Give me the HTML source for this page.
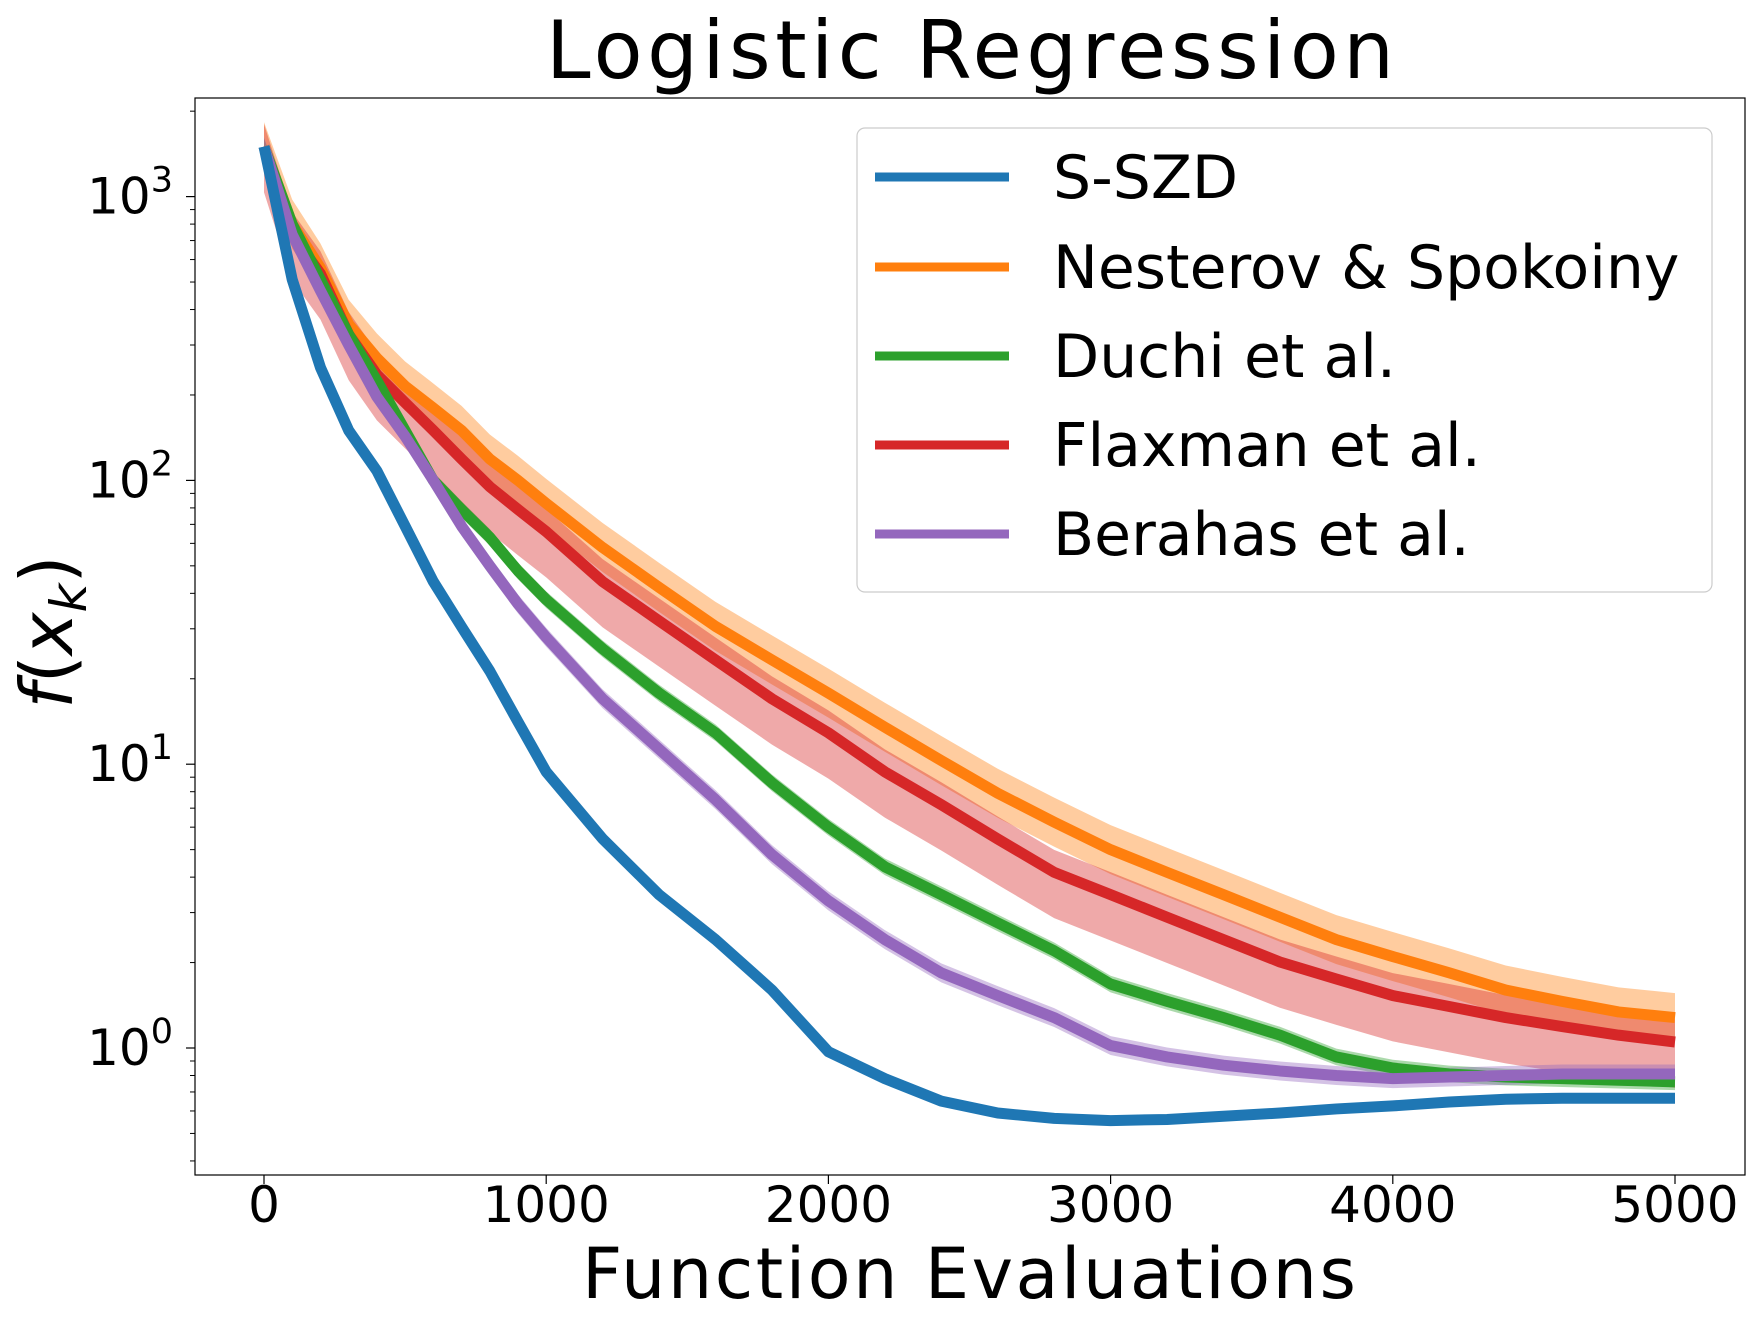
<!DOCTYPE html>
<html><head><meta charset="utf-8"><style>body{margin:0;background:#fff}svg{display:block}</style></head>
<body>
<svg id="chart" width="1754" height="1327" xmlns="http://www.w3.org/2000/svg" font-family="DejaVu Sans, Liberation Sans, sans-serif"></svg>
<script>
const xs = [0,100,200,300,400,500,600,700,800,900,1000,1200,1400,1600,1800,2000,2200,2400,2600,2800,3000,3200,3400,3600,3800,4000,4200,4400,4600,4800,5000];
const ssdzVals = [1500,510,250,150,108,69,44,30.5,21.3,14.1,9.4,5.46,3.47,2.41,1.6,0.97,0.78,0.65,0.59,0.565,0.555,0.56,0.575,0.59,0.61,0.625,0.645,0.66,0.665,0.665,0.665];
const nestVals = [1500,800,560,355,270,215,180,150,119,100,83,58,42,30.6,23.3,17.8,13.5,10.3,7.9,6.25,5.0,4.16,3.47,2.89,2.41,2.10,1.84,1.60,1.46,1.34,1.28];
const duchiVals = [1500,800,510,327,225,150,100,79,63,48,38,25.5,17.8,12.9,8.6,6.0,4.35,3.47,2.76,2.20,1.68,1.46,1.28,1.11,0.93,0.85,0.81,0.79,0.78,0.77,0.76];
const flaxVals = [1500,735,535,327,236,188,150,119,95,79,66,44,32,23.3,17,12.9,9.4,7.2,5.45,4.16,3.47,2.89,2.41,2.01,1.75,1.53,1.40,1.28,1.19,1.11,1.05];
const berVals = [1500,735,466,300,197,143,100,69,50,36.7,28,17,11.3,7.5,4.8,3.3,2.41,1.84,1.53,1.28,1.02,0.93,0.87,0.83,0.80,0.78,0.79,0.80,0.81,0.81,0.81];
const seriesNames = ["S-SZD","Nesterov & Spokoiny","Duchi et al.","Flaxman et al.","Berahas et al."];
const bandUpper = [1.02,1.22,1.07,1.2,1.08];
const bandLower = [1.02,1.22,1.07,1.45,1.08];
const xTicks = [0,1000,2000,3000,4000,5000];
const yTicks = [0,1,2,3];

const svg = document.getElementById('chart');
const NS = 'http://www.w3.org/2000/svg';
const L=195,R=1745,T=98,B=1175;
const X = v => 264 + v*(1675-264)/5000;
const Y = v => 1048 - Math.log10(v)*283.8;
function mk(tag, attrs, parent){const e=document.createElementNS(NS,tag);for(const k in attrs)e.setAttribute(k,attrs[k]);(parent||svg).appendChild(e);return e;}
const colors=["#1f77b4","#ff7f0e","#2ca02c","#d62728","#9467bd"];
const all=[ssdzVals,nestVals,duchiVals,flaxVals,berVals];
const clip=mk('clipPath',{id:'pc'});mk('rect',{x:L,y:T,width:R-L,height:B-T},clip);
const g=mk('g',{'clip-path':'url(#pc)'});


const drawOrder=[1,3,2,4,0];
all.forEach((vals,i)=>{
  let up=xs.map((x,j)=>X(x)+','+Y(vals[j]*bandUpper[i]));
  let lo=xs.map((x,j)=>X(x)+','+Y(vals[j]/bandLower[i])).reverse();
  const p=mk('polygon',{points:up.concat(lo).join(' '),fill:colors[i],opacity:0.4},g);
  
  
});
drawOrder.forEach(i=>{
  const vals=all[i];
  const p=mk('polyline',{points:xs.map((x,j)=>X(x)+','+Y(vals[j])).join(' '),fill:'none',stroke:colors[i],'stroke-width':11,'stroke-linejoin':'round'},g);
  
  
});
const frame=mk('rect',{x:L,y:T,width:R-L,height:B-T,fill:'none',stroke:'#000','stroke-width':1.2});


xTicks.forEach(t=>{
  mk('line',{x1:X(t),x2:X(t),y1:B,y2:B+9,stroke:'#000','stroke-width':1.2});
  const tx=mk('text',{x:X(t),y:1222,'font-size':50,'text-anchor':'middle'});tx.textContent=t;
  
  
});
yTicks.forEach(t=>{
  const y=Y(Math.pow(10,t));
  mk('line',{x1:L-9,x2:L,y1:y,y2:y,stroke:'#000','stroke-width':1.2});
  const tx=mk('text',{x:L-22,y:y+17,'font-size':50,'text-anchor':'end'});
  tx.innerHTML='10<tspan dy="-22" font-size="35">'+t+'</tspan>';
  
  
});
for(let d=-1;d<=3;d++)for(let m=2;m<=9;m++){const v=m*Math.pow(10,d);const y=Y(v);if(y>T&&y<B)mk('line',{x1:L-5,x2:L,y1:y,y2:y,stroke:'#000','stroke-width':1});}
const title=mk('text',{x:970,y:78,'font-size':80,'text-anchor':'middle',textLength:848});title.textContent='Logistic Regression';


const xl=mk('text',{x:969,y:1298,'font-size':70,'text-anchor':'middle',textLength:774});xl.textContent='Function Evaluations';


const yl=mk('text',{x:0,y:0,'font-size':72,'text-anchor':'middle',transform:'translate(72,632) rotate(-90)'});
yl.innerHTML='<tspan font-style="italic">f</tspan>(<tspan font-style="italic">x</tspan><tspan font-style="italic" font-size="50" dy="14">k</tspan><tspan dy="-14">)</tspan>';


const lg=mk('g',{});


mk('rect',{x:857,y:128,width:855,height:464,rx:8,fill:'#fff','fill-opacity':0.8,stroke:'#ccc','stroke-width':1.2},lg);
const ly=[177,267,356,445,534];
seriesNames.forEach((n,i)=>{
  const it=mk('g',{},lg);
  
  
  mk('line',{x1:875,x2:1009,y1:ly[i],y2:ly[i],stroke:colors[i],'stroke-width':9},it);
  const t=mk('text',{x:1053,y:ly[i]+21,'font-size':60},it);t.textContent=n;
});
</script>
</body></html>
